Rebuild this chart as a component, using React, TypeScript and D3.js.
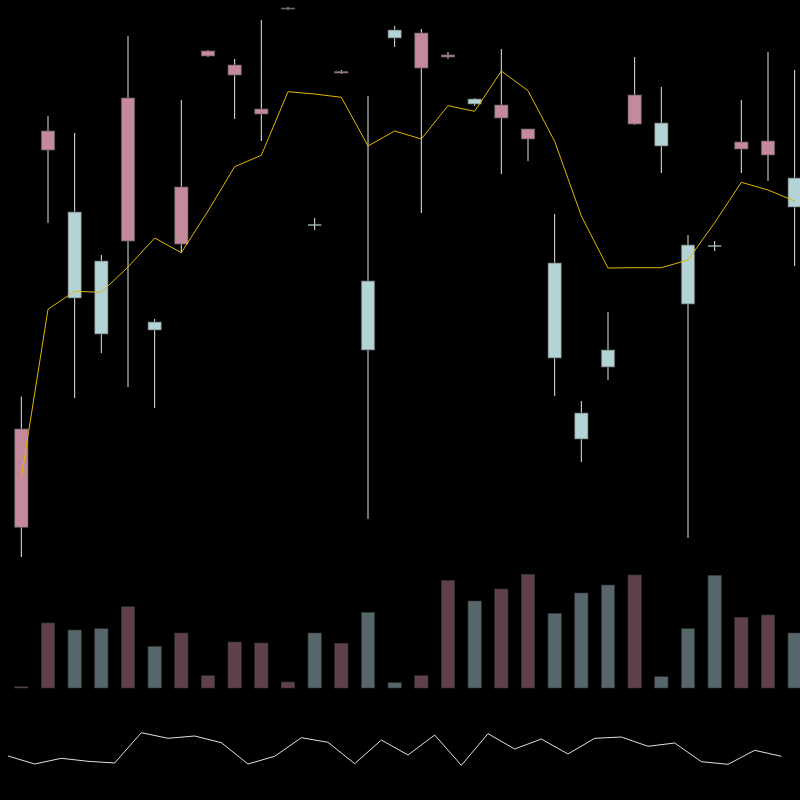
import React from "react";
import { scaleLinear, line } from "d3";

// price candles
const opens = [53.1, 82.9, 66.2, 62.6, 86.2, 63.0, 77.3, 90.9, 89.5, 85.1, 95.2, 73.5, 88.85, 61.0, 92.2, 92.7, 90.5, 85.6, 85.5, 83.1, 60.2, 52.1, 59.3, 86.5, 81.4, 65.6, 71.4, 81.8, 81.9, 75.3];
const closes = [43.27, 81.0, 74.8, 69.9, 71.9, 63.8, 71.6, 90.4, 88.5, 84.6, 95.1, 73.5, 88.7, 67.9, 93.0, 89.2, 90.3, 86.1, 84.2, 82.1, 69.7, 54.7, 61.0, 83.6, 83.7, 71.5, 71.4, 81.1, 80.5, 78.2];
const highs = [56.33, 84.4, 82.7, 70.5, 92.4, 64.1, 86.0, 91.0, 90.1, 94.0, 95.3, 74.2, 89.0, 86.4, 93.4, 93.1, 90.8, 86.2, 91.1, 83.1, 74.6, 55.9, 64.8, 90.3, 87.3, 72.5, 71.9, 86.0, 90.8, 89.0];
const lows = [40.3, 73.7, 56.2, 60.7, 57.3, 55.2, 70.7, 90.3, 84.1, 81.9, 95.0, 73.0, 88.6, 44.1, 91.3, 74.7, 90.1, 85.4, 78.6, 79.9, 56.4, 49.8, 58.0, 83.5, 78.7, 42.2, 70.9, 78.7, 77.9, 69.4];
const movingAvg = [48.23, 65.07, 66.87, 66.77, 69.3, 72.2, 70.73, 74.9, 79.33, 80.47, 86.83, 86.6, 86.27, 81.4, 82.9, 82.1, 85.43, 84.87, 88.9, 86.93, 81.87, 74.4, 69.2, 69.23, 69.23, 70.0, 73.73, 77.77, 77.0, 75.9];
const volumes = [1.3, 65, 58, 59.3, 81.3, 41.7, 55, 12.3, 46, 45, 6, 55, 44.7, 75.7, 5.3, 12.3, 107.7, 87, 99, 113.7, 74.7, 95, 103, 113, 11.3, 59.3, 112.7, 70.7, 73, 55];
const indicator = [24, 16, 21.7, 18.7, 17, 47.3, 41.7, 44, 37.3, 16, 23.7, 42.3, 37.7, 16.3, 40, 25, 45, 14.7, 46.3, 31, 41, 26, 41.7, 43, 33.7, 37, 18.3, 15.7, 29.7, 23.7];

const width = 800;
const height = 800;
const upColor = "#b4d3d6";
const downColor = "#c4899b";
const upVol = "#56666b";
const downVol = "#5e414b";

export default function App() {
  const n = opens.length;
  const xScale = scaleLinear().domain([0, n]).range([0, width]);
  const step = width / n;
  const bodyW = step / 2;
  const cx = (i: number) => xScale(i + 0.8);

  const yPrice = scaleLinear().domain([40, 96]).range([560, 0]);
  const yVol = scaleLinear().domain([0, 120]).range([688, 568]);
  const yInd = scaleLinear().domain([0, 60]).range([780, 720]);

  const maLine = line<number>()
    .x((d, i) => cx(i))
    .y((d) => yPrice(d));
  const indLine = line<number>()
    .x((d, i) => xScale(i + 0.3))
    .y((d) => yInd(d));

  return (
    <div style={{ position: "fixed", left: 0, top: 0 }}>
      <svg width={width} height={height} style={{ display: "block", background: "#000" }}>
        <rect width={width} height={height} fill="#000" />
        {/* volume bars */}
        {volumes.map((v, i) => {
          const up = closes[i] >= opens[i];
          return (
            <rect
              key={"v" + i}
              x={cx(i) - bodyW / 2}
              y={yVol(v)}
              width={bodyW}
              height={yVol(0) - yVol(v)}
              fill={up ? upVol : downVol}
              stroke="#333"
              strokeWidth={0.6}
            />
          );
        })}
        {/* candles */}
        {opens.map((o, i) => {
          const c = closes[i];
          const up = c >= o;
          const top = yPrice(Math.max(o, c));
          const bottom = yPrice(Math.min(o, c));
          const color = up ? upColor : downColor;
          return (
            <g key={"c" + i}>
              <line
                x1={cx(i)}
                x2={cx(i)}
                y1={yPrice(highs[i])}
                y2={yPrice(lows[i])}
                stroke="#e6e6e6"
                strokeWidth={1}
              />
              {bottom - top < 1 ? (
                <line
                  x1={cx(i) - bodyW / 2}
                  x2={cx(i) + bodyW / 2}
                  y1={top}
                  y2={top}
                  stroke={color}
                  strokeWidth={1.2}
                />
              ) : (
                <rect
                  x={cx(i) - bodyW / 2}
                  y={top}
                  width={bodyW}
                  height={bottom - top}
                  fill={color}
                  stroke="#555"
                  strokeOpacity={0.7}
                  strokeWidth={1}
                />
              )}
            </g>
          );
        })}
        {/* moving average */}
        <path d={maLine(movingAvg) || ""} fill="none" stroke="#e0b800" strokeWidth={1} />
        {/* bottom indicator */}
        <path d={indLine(indicator) || ""} fill="none" stroke="#e0e0e0" strokeWidth={1} />
      </svg>
    </div>
  );
}
